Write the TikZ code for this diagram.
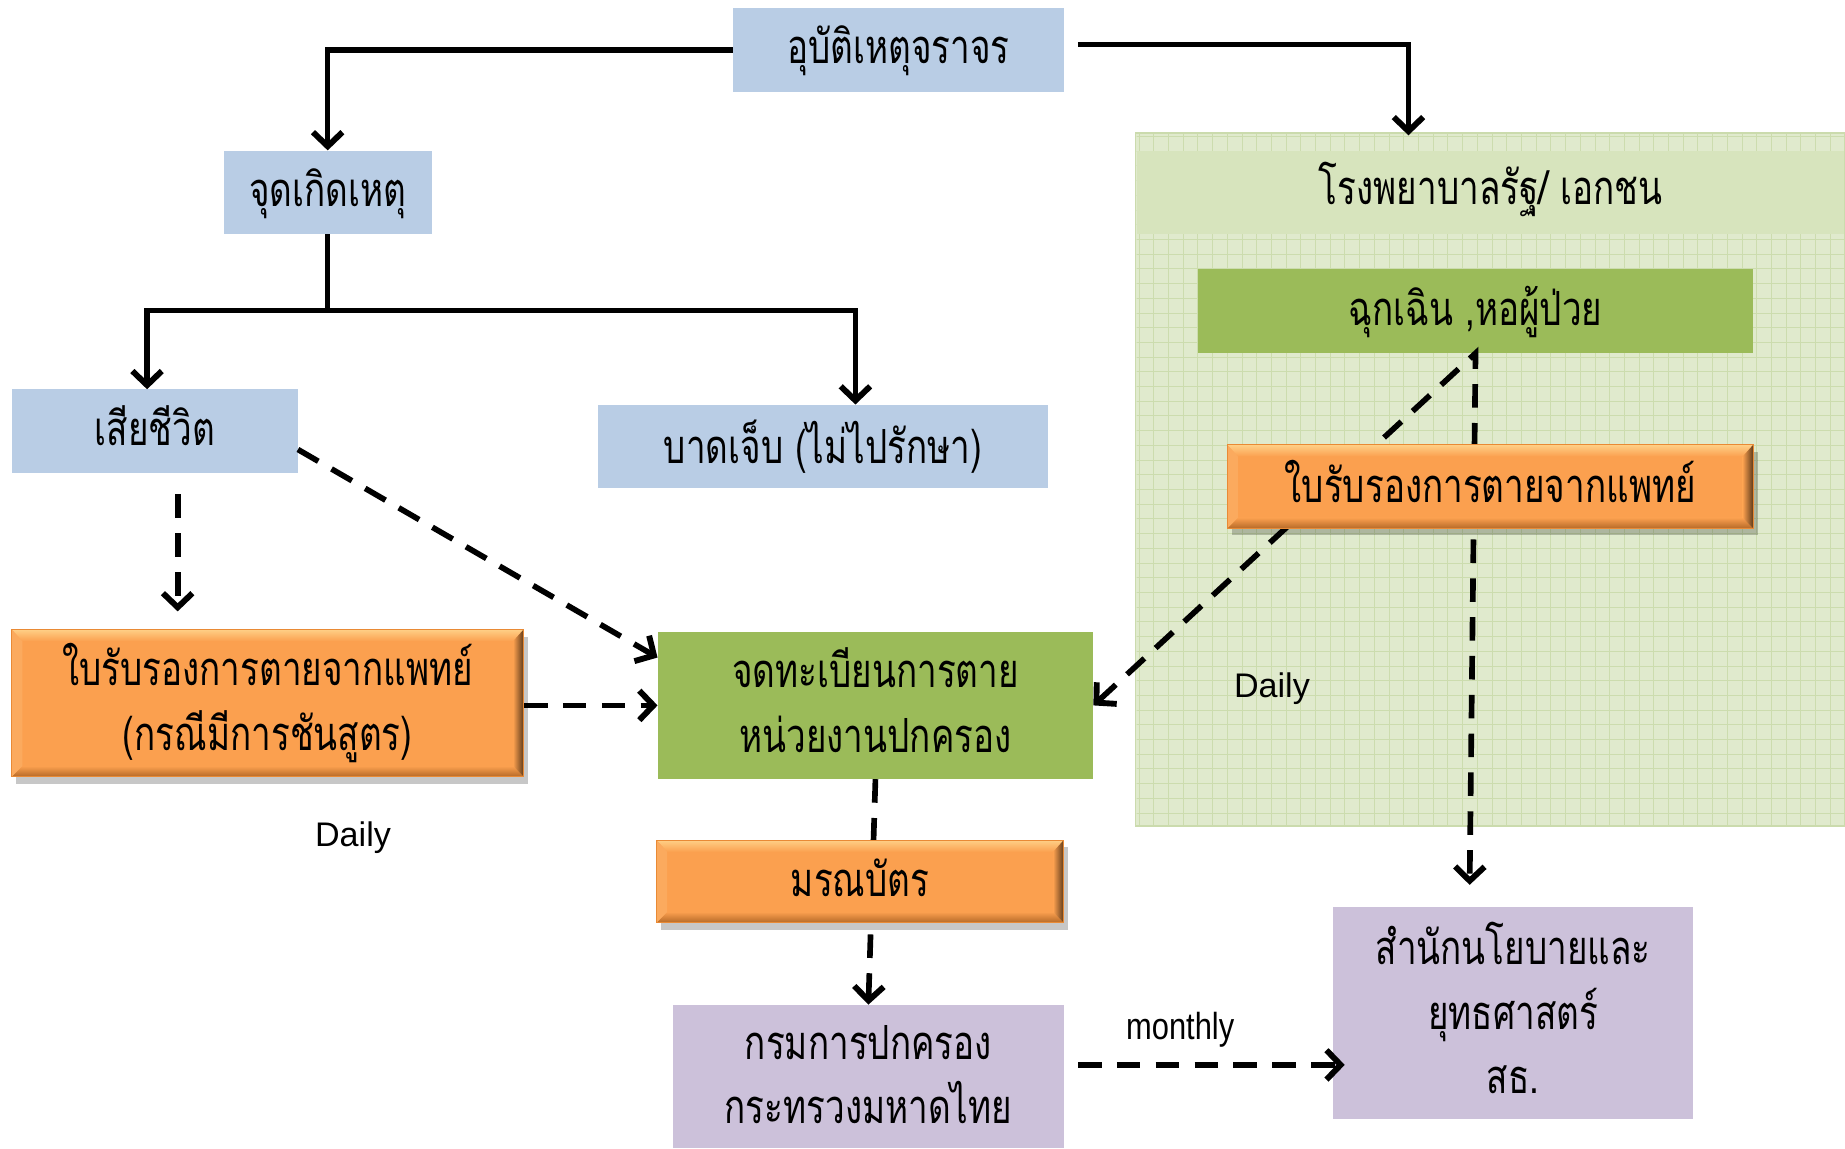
\documentclass[tikz,border=0pt]{standalone}
\usepackage{fontspec}
\usetikzlibrary{arrows.meta,calc,shadows}
\newfontfamily\thaifont[Script=Thai,FakeStretch=0.745]{Loma}
\newfontfamily\latinfont{Liberation Sans}
\newfontfamily\narrowfont[FakeStretch=0.82]{Liberation Sans}
\definecolor{boxblue}{HTML}{B9CDE5}
\definecolor{boxgreen}{HTML}{9BBB59}
\definecolor{boxpurple}{HTML}{CCC1DA}
\definecolor{orfill}{HTML}{FBA04F}
\definecolor{ortop}{HTML}{FFCF86}
\definecolor{orright}{HTML}{5E3A1A}
\definecolor{orbot}{HTML}{B66A28}
\definecolor{orleft}{HTML}{FBAA5E}
\definecolor{orline}{HTML}{E98A35}
\definecolor{hospfill}{HTML}{E0EACD}
\definecolor{hosphead}{HTML}{D7E4BD}
\definecolor{hospgrid}{HTML}{CCDCAE}
\definecolor{hospedge}{HTML}{CBDBAD}
\newcommand\tstrut{\rule[-9pt]{0pt}{43pt}}
\newcommand\tline[1]{\tstrut#1}
\tikzset{
  thaitext/.style={inner sep=0pt, align=center, font=\thaifont\fontsize{40}{55}\selectfont},
  bluebox/.style={thaitext, fill=boxblue},
  greenbox/.style={thaitext, fill=boxgreen},
  purplebox/.style={thaitext, fill=boxpurple},
  orangebox/.style={thaitext, fill=orfill, draw=orline, line width=0.8pt,
    drop shadow={shadow xshift=4pt, shadow yshift=-6pt, fill=black, opacity=0.22},
    path picture={
      \coordinate (pNW) at (path picture bounding box.north west);
      \coordinate (pNE) at (path picture bounding box.north east);
      \coordinate (pSW) at (path picture bounding box.south west);
      \coordinate (pSE) at (path picture bounding box.south east);
      \shade[top color=ortop, bottom color=orfill] (pNW) -- (pNE) -- ([shift={(-9pt,-10pt)}]pNE) -- ([shift={(9pt,-10pt)}]pNW) -- cycle;
      \shade[top color=orfill, bottom color=orbot] (pSW) -- (pSE) -- ([shift={(-9pt,9pt)}]pSE) -- ([shift={(9pt,9pt)}]pSW) -- cycle;
      \shade[left color=orfill, right color=orright] (pNE) -- (pSE) -- ([shift={(-9pt,9pt)}]pSE) -- ([shift={(-9pt,-10pt)}]pNE) -- cycle;
      \fill[orleft] (pNW) -- (pSW) -- ([shift={(9pt,9pt)}]pSW) -- ([shift={(9pt,-10pt)}]pNW) -- cycle;
    }},
  solidarrow/.style={line width=4.5pt, -{Straight Barb[length=12pt,width=25pt,line width=5pt]}},
  solidline/.style={line width=4.5pt},
  dasharrow/.style={line width=4.8pt, dash pattern=on 20pt off 13pt, -{Straight Barb[length=12pt,width=25pt,line width=5pt]}},
  lbl/.style={inner sep=0pt, font=\latinfont\fontsize{29}{32}\selectfont},
  lbln/.style={inner sep=0pt, font=\narrowfont\fontsize{32}{36}\selectfont},
}
\begin{document}
\begin{tikzpicture}[x=1pt,y=-1pt]
\useasboundingbox (0,0) rectangle (1568,976);
\fill[white] (0,0) rectangle (1568,976);
% hospital container
\node[fill=hospfill, draw=hospedge, line width=1.5pt, minimum width=603, minimum height=589, inner sep=0pt] (hosp) at (1266.5,407.5) {};
\begin{scope}
  \clip (966,114) rectangle (1567,701);
  \foreach \gx in {968,980.5,...,1570} {\draw[hospgrid, line width=0.8pt] (\gx,110) -- (\gx,705);}
  \foreach \gy in {116,128.5,...,705} {\draw[hospgrid, line width=0.8pt] (960,\gy) -- (1570,\gy);}
\end{scope}
\fill[hosphead] (966,128) rectangle (1567,199);
\node[thaitext] (hosplabel) at (1267,161) {\tline{โรงพยาบาลรัฐ/ เอกชน}};

% boxes
\node[bluebox, minimum width=281, minimum height=71] (acc) at (763.5,42.5) {\tline{อุบัติเหตุจราจร}};
\node[bluebox, minimum width=177, minimum height=71] (site) at (278.5,163.5) {\tline{จุดเกิดเหตุ}};
\node[bluebox, minimum width=243, minimum height=71] (dead) at (131.5,366.5) {\tline{เสียชีวิต}};
\node[bluebox, minimum width=383, minimum height=71] (inj) at (699.5,379.5) {\tline{บาดเจ็บ (ไม่ไปรักษา)}};
\node[greenbox, minimum width=472, minimum height=71] (er) at (1254,264.5) {\tline{ฉุกเฉิน ,หอผู้ป่วย}};
\node[greenbox, minimum width=370, minimum height=125] (reg) at (744,599.5) {\tline{จดทะเบียนการตาย}\\\tline{หน่วยงานปกครอง}};
\node[purplebox, minimum width=332, minimum height=122] (dopa) at (738,915) {\tline{กรมการปกครอง}\\\tline{กระทรวงมหาดไทย}};
\node[purplebox, minimum width=306, minimum height=180] (moph) at (1286,861) {\tline{สำนักนโยบายและ}\\\tline{ยุทธศาสตร์}\\\tline{สธ.}};

% connectors passing behind orange boxes
\coordinate (mophIn) at (1249,752);
\draw[dasharrow, {Straight Barb[length=12pt,width=25pt,line width=5pt]}-{Straight Barb[length=12pt,width=25pt,line width=5pt]}, line join=miter] (reg.east) -- (er.south) -- (mophIn);
\draw[dasharrow] (reg.south) -- (dopa.north);

% orange boxes
\node[orangebox, minimum width=447, minimum height=71] (cert2) at (1266.5,413.5) {\tline{ใบรับรองการตายจากแพทย์}};
\node[orangebox, minimum width=435, minimum height=125] (cert1) at (227.5,597.5) {\tline{ใบรับรองการตายจากแพทย์}\\\tline{(กรณีมีการชันสูตร)}};
\node[orangebox, minimum width=346, minimum height=70] (death) at (731,749) {\tline{มรณบัตร}};

% solid connectors
\coordinate (accOut) at (916,38);
\coordinate (hospIn) at (1197,115);
\draw[solidarrow] (acc.west) -| (site.north);
\draw[solidarrow] (accOut) -| (hospIn);
\coordinate (split) at (278.5,264);
\draw[solidline] (site.south) -- (split);
\draw[solidarrow] (split) -| ([xshift=-6.5pt]dead.north);
\draw[solidarrow] (split) -| ([xshift=27.5pt]inj.north);

% dashed connectors
\draw[dasharrow] ($(dead.south)+(19.5,18)$) -- ($(cert1.north)+(-76.5,-15)$);
\draw[dasharrow] ($(dead.east)+(0,15.5)$) -- ($(reg.north west)+(0,22)$);
\draw[dasharrow] (cert1.east |- reg.west) -- (reg.west);
\draw[dasharrow] ($(dopa.east)+(12,-10)$) -- ($(moph.west)+(10,44)$);

% labels
\node[lbl] (daily1) at (1081,585) {Daily};
\node[lbl] (daily2) at (300,712) {Daily};
\node[lbln] (monthly) at (1003,875) {monthly};
\end{tikzpicture}
\end{document}
